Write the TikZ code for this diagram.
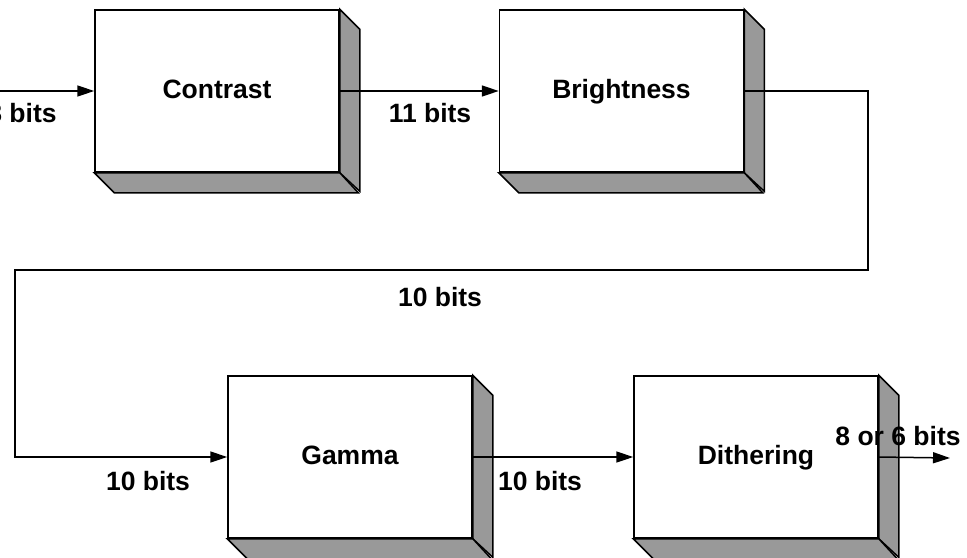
\documentclass[tikz,border=0pt]{standalone}
\usepackage{fontspec}
\setmainfont{Liberation Sans}
\usetikzlibrary{arrows.meta}

\begin{document}
\begin{tikzpicture}[x=0.5pt,y=-0.5pt,line width=0.75pt,
  blk/.style={draw,fill=white,inner sep=0pt,minimum width=122pt,minimum height=81pt,
    text height=9.5pt,text depth=2.5pt},
  lbl/.style={inner sep=0pt},
  every node/.style={font=\fontsize{13.25}{16}\selectfont\bfseries},
  >={Triangle[length=8.5pt,width=5.5pt]}]
\useasboundingbox (0,0) rectangle (967,557);
\node [blk] (contrast) at (217,91) {Contrast};
\node [blk] (brightness) at (621.5,91) {Brightness};
\node [blk] (gamma) at (350,457) {Gamma};
\node [blk] (dither) at (756,457) {Dithering};
\foreach \n in {contrast,brightness,gamma,dither} {
  \draw [fill=black!40] (\n.north east) -- ++(20,20) -- ++(0,162) -- (\n.south east) -- cycle;
  \draw [fill=black!40] (\n.south west) -- ++(20,20) -- ++(244,0) -- (\n.south east) -- cycle;
}
\coordinate (in) at (0,91);
\coordinate (b1) at (868,270);
\coordinate (b2) at (15,270);
\coordinate (out) at (950,458);
\draw [->] (in) -- (contrast.west);
\draw [->] (contrast.east) -- (brightness.west);
\draw [->] (brightness.east) -| (b1) -- (b2) |- (gamma.west);
\draw [->] (gamma.east) -- (dither.west);
\draw [->] (dither.east) -- (out);
\node [lbl] (l8) at (22,113) {8 bits};
\node [lbl] (l11) at (430,113) {11 bits};
\node [lbl] (l10a) at (440,297) {10 bits};
\node [lbl] (l10b) at (148,481) {10 bits};
\node [lbl] (l10c) at (540,481) {10 bits};
\node [lbl] (lout) at (898,436) {8 or 6 bits};
\end{tikzpicture}
\end{document}
